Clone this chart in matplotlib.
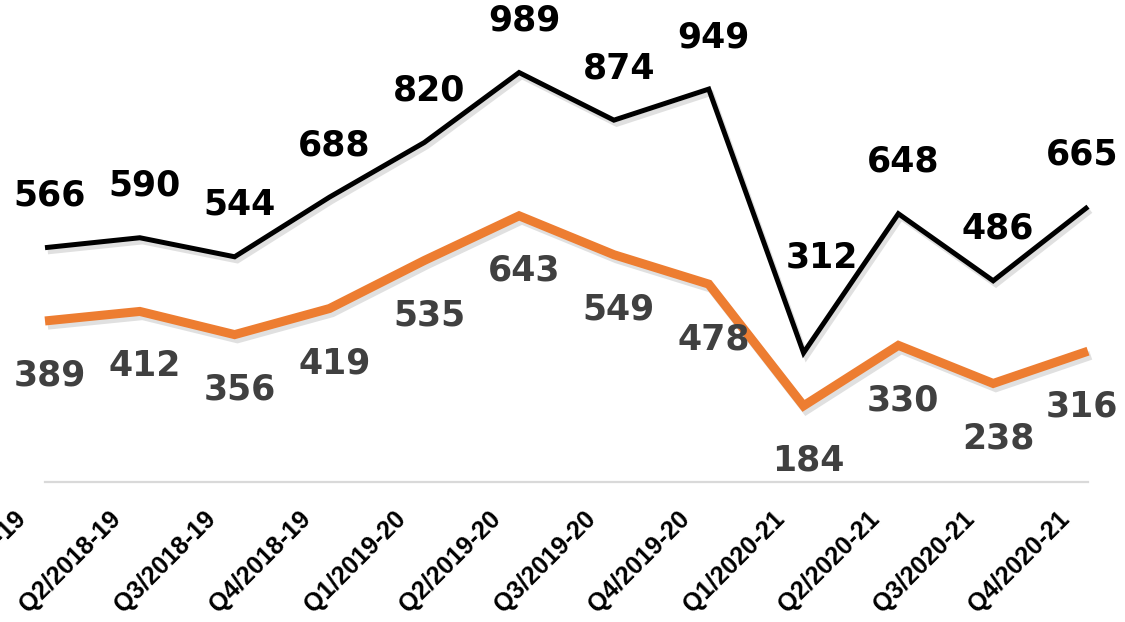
import matplotlib
matplotlib.use("Agg")
import matplotlib.pyplot as plt
import matplotlib.patheffects as pe
from matplotlib.transforms import ScaledTranslation

quarters = ["Q1/2018-19", "Q2/2018-19", "Q3/2018-19", "Q4/2018-19",
            "Q1/2019-20", "Q2/2019-20", "Q3/2019-20", "Q4/2019-20",
            "Q1/2020-21", "Q2/2020-21", "Q3/2020-21", "Q4/2020-21"]
series_black = [566, 590, 544, 688, 820, 989, 874, 949, 312, 648, 486, 665]
series_orange = [389, 412, 356, 419, 535, 643, 549, 478, 184, 330, 238, 316]

BLACK = "#000000"
ORANGE = "#ed7d31"
LABEL_GRAY = "#404040"
AXIS_GRAY = "#d9d9d9"

W, H = 1125, 622
fig = plt.figure(figsize=(W / 100, H / 100), dpi=100)
fig.patch.set_facecolor("white")
ax = fig.add_axes([45 / W, 140 / H, 1043 / W, 414 / H])

x = list(range(len(quarters)))
shadow = [pe.SimpleLineShadow(offset=(2, -3), shadow_color="#999999", alpha=0.3),
          pe.Normal()]

ax.plot(x, series_orange, color=ORANGE, lw=6.5, solid_joinstyle="miter",
        solid_capstyle="butt", clip_on=False, zorder=3, path_effects=shadow)
ax.plot(x, series_black, color=BLACK, lw=3.6, solid_joinstyle="miter",
        solid_capstyle="butt", clip_on=False, zorder=4, path_effects=shadow)

label_font = dict(family="DejaVu Sans", fontweight="bold", fontsize=25,
                  ha="center", va="center")
last = len(quarters) - 1

# black labels above, orange labels below
for i, v in enumerate(series_black):
    dx, dy = 5, 52
    if v == 312:  # this one sits further up, next to the line
        dx, dy = 18, 95
    if i == last:
        dx = -6
    ax.annotate(str(v), (i, v), xytext=(dx, dy), textcoords="offset pixels",
                color=BLACK, zorder=5, annotation_clip=False, **label_font)

for i, v in enumerate(series_orange):
    dx = -6 if i == last else 5
    ax.annotate(str(v), (i, v), xytext=(dx, -55), textcoords="offset pixels",
                color=LABEL_GRAY, zorder=5, annotation_clip=False, **label_font)

ax.set_xlim(0, last)
ax.set_ylim(0, 1000)
ax.set_yticks([])
ax.set_xticks(x)
ax.set_xticklabels(quarters, rotation=45, ha="right", fontsize=18,
                   family="Liberation Sans", fontweight="bold", color="black")
ax.tick_params(axis="x", length=0, pad=18)
offset = ScaledTranslation(-14 / 100, 0, fig.dpi_scale_trans)
for lbl in ax.get_xticklabels():
    lbl.set_transform(lbl.get_transform() + offset)

for s in ["top", "right", "left"]:
    ax.spines[s].set_visible(False)
ax.spines["bottom"].set_color(AXIS_GRAY)
ax.spines["bottom"].set_linewidth(1.6)
ax.set_facecolor("none")

fig.savefig("out.png", dpi=100, facecolor="white")
